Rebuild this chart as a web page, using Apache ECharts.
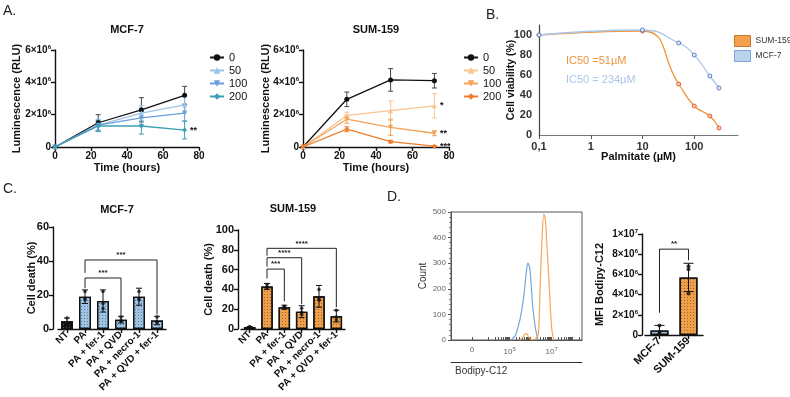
<!DOCTYPE html>
<html>
<head>
<meta charset="utf-8">
<script src="https://cdn.jsdelivr.net/npm/echarts@6/dist/echarts.min.js"></script>
<style>
html, body { margin: 0; padding: 0; background: #fff; }
#main { width: 790px; height: 397px; }
</style>
</head>
<body>
<div id="main"></div>
<script>
var FONT = 'Liberation Sans, Arial, sans-serif';

// A. luminescence (x10^6 RLU) vs time, per palmitate dose
var hours = [0, 24, 48, 72];
var doses = ['0', '50', '100', '200'];
var mcfLum0 = [0, 1.5, 2.3, 3.2],    mcfErr0 = [0, 0.5, 0.75, 0.55];
var mcfLum50 = [0, 1.35, 2.1, 2.6],  mcfErr50 = [0, 0.35, 0.45, 0.5];
var mcfLum100 = [0, 1.35, 1.8, 2.1], mcfErr100 = [0, 0.3, 0.4, 0.5];
var mcfLum200 = [0, 1.3, 1.3, 1.05], mcfErr200 = [0, 0.35, 0.5, 0.55];
var mcfLumSig = ['', '', '', '**'];
var sumLum0 = [0, 2.95, 4.15, 4.1],   sumErr0 = [0, 0.45, 0.7, 0.45];
var sumLum50 = [0, 1.95, 2.25, 2.55], sumErr50 = [0, 0.2, 0.6, 0.75];
var sumLum100 = [0, 1.72, 1.22, 0.85], sumErr100 = [0, 0.25, 0.5, 0.15];
var sumLum200 = [0, 1.1, 0.33, 0.05], sumErr200 = [0, 0.15, 0.08, 0.03];
var sumLumSig = ['', '*', '**', '***'];

// B. viability vs palmitate concentration
var palmitate = [0.1, 10, 50, 100, 200, 300];
var viabSum = [100, 104, 51, 29, 19, 7];
var viabMcf = [100, 105, 92, 80, 59, 47];

// C. cell death (%)
var treatments = ['NT', 'PA', 'PA + fer-1', 'PA + QVD', 'PA + necro-1', 'PA + QVD + fer-1'];
var mcfDeath = [4.5, 19, 16.5, 5.5, 19, 5];
var mcfDeathErr = [2, 4, 6.5, 2, 5, 2.5];
var mcfDeathReps = [[6.5, 4, 3], [22, 17, 18], [22, 12, 15], [7, 5, 4.5], [22, 17, 18], [7, 4, 4]];
var mcfBrackets = [[1, 3, 30, 24, 8], [1, 5, 40.6, 33, 8.5]];
var mcfBracketLabels = ['***', '***'];
var sumDeath = [2, 43, 22, 17.5, 33, 13];
var sumDeathErr = [0.5, 3, 2, 6, 11, 6];
var sumDeathReps = [[2, 2, 2], [45, 42, 42], [23, 22, 21], [21, 17, 15], [40, 30, 29], [19, 12, 9]];
var sumBrackets = [[1, 2, 60.5, 51, 28], [1, 3, 72, 63, 25], [1, 5, 81.5, 74, 22]];
var sumBracketLabels = ['***', '****', '****'];

// D. Bodipy-C12 histogram (log10 fluorescence, count) and MFI (x10^6)
var blueFluo = [5.05, 5.25, 5.4, 5.55, 5.7, 5.8, 5.87, 5.95, 6.02, 6.1, 6.22, 6.35];
var blueCount = [0, 15, 50, 105, 190, 270, 300, 285, 220, 130, 50, 0];
var orangeFluo = [5.48, 5.62, 5.72, 5.8, 5.9, 6.05, 6.25, 6.37, 6.44, 6.53, 6.63, 6.7, 6.77, 6.88, 7.0, 7.1];
var orangeCount = [0, 10, 22, 25, 12, 2, 5, 25, 180, 370, 492, 470, 380, 220, 50, 0];
var cells = ['MCF-7', 'SUM-159'];
var mfi = [0.45, 5.7];
var mfiErr = [0.5, 1.4];
var mfiReps = [[0.95, 0.3, 0.1], [6.8, 6.5, 4.1]];
var mfiBrackets = [[0, 1, 8.5, 2.2, 7.4]];
var mfiBracketLabels = ['**'];

var BLUE = ['#9cc3e6', '#6a9fde', '#3aa0b5'];
var ORANGE = ['#f9c48e', '#f4a25a', '#ef7d2e'];
var BAR_BLUE = '#9dc3e6';
var BAR_ORANGE = '#f0a04b';

function merge(a, b) {
  var out = {};
  for (var k in a) out[k] = a[k];
  for (var k2 in b) {
    if (out[k2] && typeof out[k2] === 'object' && !Array.isArray(out[k2]) && typeof b[k2] === 'object' && !Array.isArray(b[k2])) {
      out[k2] = merge(out[k2], b[k2]);
    } else {
      out[k2] = b[k2];
    }
  }
  return out;
}

var prismAxis = {
  axisLine: { show: true, onZero: false, lineStyle: { color: '#111', width: 1.4 } },
  axisTick: { show: true, length: 4, lineStyle: { color: '#111', width: 1.4 } },
  axisLabel: { color: '#111', fontFamily: FONT, fontWeight: 'bold', fontSize: 10, margin: 4 },
  splitLine: { show: false },
  nameLocation: 'middle',
  nameMoveOverlap: false,
  nameTextStyle: { color: '#111', fontFamily: FONT, fontWeight: 'bold', fontSize: 11 }
};

function sci(v) {
  if (v === 0) return '0';
  if (v >= 10) return '{b|' + (v / 10) + '×10}{s|7}';
  return '{b|' + v + '×10}{s|6}';
}
var sciRich = {
  b: { fontFamily: FONT, fontWeight: 'bold', fontSize: 10, color: '#111' },
  s: { fontFamily: FONT, fontWeight: 'bold', fontSize: 6, color: '#111', verticalAlign: 'top', padding: [0, 0, 5, 0] }
};

function errSeries(xi, data, color, cap) {
  return {
    type: 'custom', xAxisIndex: xi, yAxisIndex: xi, silent: true, z: 3,
    data: data,
    renderItem: function (params, api) {
      var x = api.value(0);
      var lo = api.coord([x, api.value(1)]);
      var hi = api.coord([x, api.value(2)]);
      var st = { stroke: color, lineWidth: 1 };
      return { type: 'group', children: [
        { type: 'line', shape: { x1: lo[0], y1: lo[1], x2: hi[0], y2: hi[1] }, style: st },
        { type: 'line', shape: { x1: hi[0] - cap, y1: hi[1], x2: hi[0] + cap, y2: hi[1] }, style: st },
        { type: 'line', shape: { x1: lo[0] - cap, y1: lo[1], x2: lo[0] + cap, y2: lo[1] }, style: st }
      ] };
    }
  };
}

function bracketSeries(xi, rows, labels) {
  return {
    type: 'custom', xAxisIndex: xi, yAxisIndex: xi, silent: true, z: 6,
    data: rows,
    renderItem: function (params, api) {
      var a = api.coord([api.value(0), api.value(3)]);
      var b = api.coord([api.value(0), api.value(2)]);
      var c = api.coord([api.value(1), api.value(2)]);
      var d = api.coord([api.value(1), api.value(4)]);
      return { type: 'group', children: [
        { type: 'polyline', shape: { points: [a, b, c, d] }, style: { stroke: '#222', lineWidth: 1, fill: null } },
        { type: 'text', x: (b[0] + c[0]) / 2, y: b[1] - 1,
          style: { text: labels[params.dataIndex], font: 'bold 8px ' + FONT, fill: '#222', align: 'center', verticalAlign: 'bottom' } }
      ] };
    }
  };
}

function lumSeries(xi, cell, dose, vals, errs, sig, color, symbol, rotate) {
  var out = [];
  out.push({
    type: 'line', name: cell + '|' + dose, xAxisIndex: xi, yAxisIndex: xi, z: 4,
    symbol: symbol, symbolSize: 5, symbolRotate: rotate,
    lineStyle: { color: color, width: 1.3 }, itemStyle: { color: color },
    data: hours.map(function (h, i) {
      var d = { value: [h, vals[i]] };
      if (i === hours.length - 1 && sig) {
        d.label = { show: true, formatter: sig, position: 'right', distance: 3,
          fontFamily: FONT, fontWeight: 'bold', fontSize: 9, color: '#111' };
      }
      return d;
    })
  });
  var eb = [];
  hours.forEach(function (h, i) { if (errs[i] > 0) eb.push([h, vals[i] - errs[i], vals[i] + errs[i]]); });
  out.push(errSeries(xi, eb, color === '#111' ? '#444' : color, 2.5));
  return out;
}

function barBlock(xi, vals, errs, reps, fill, first, width) {
  var dotDecal = { symbol: 'rect', symbolSize: 1, color: 'rgba(0,0,0,0.35)', dashArrayX: [1, 2], dashArrayY: [1, 2] };
  var out = [];
  out.push({
    type: 'bar', xAxisIndex: xi, yAxisIndex: xi, barWidth: width, z: 2,
    data: vals.map(function (v, i) {
      var c = (i === 0 && first) ? first : fill;
      return { value: v, itemStyle: { color: c, borderColor: '#111', borderWidth: 1.3,
        decal: (i === 0 && first) ? { symbol: 'rect', symbolSize: 1, color: 'rgba(255,255,255,0.35)', dashArrayX: [1, 2], dashArrayY: [1, 2] } : dotDecal } };
    })
  });
  out.push(errSeries(xi, vals.map(function (v, i) { return [i, Math.max(0, v - errs[i]), v + errs[i]]; }), '#111', 3));
  var pts = [];
  reps.forEach(function (r, i) { r.forEach(function (v) { pts.push([i, v]); }); });
  out.push({ type: 'scatter', xAxisIndex: xi, yAxisIndex: xi, symbolSize: 3.5, z: 5,
    itemStyle: { color: '#111' }, data: pts });
  return out;
}

var series = [];
var shapes = [['circle', 0], ['triangle', 0], ['triangle', 180], ['diamond', 0]];
[mcfLum0, mcfLum50, mcfLum100, mcfLum200].forEach(function (v, k) {
  var errs = [mcfErr0, mcfErr50, mcfErr100, mcfErr200][k];
  var color = k === 0 ? '#111' : BLUE[k - 1];
  series = series.concat(lumSeries(0, 'MCF-7', doses[k], v, errs, mcfLumSig[k], color, shapes[k][0], shapes[k][1]));
});
[sumLum0, sumLum50, sumLum100, sumLum200].forEach(function (v, k) {
  var errs = [sumErr0, sumErr50, sumErr100, sumErr200][k];
  var color = k === 0 ? '#111' : ORANGE[k - 1];
  series = series.concat(lumSeries(1, 'SUM-159', doses[k], v, errs, sumLumSig[k], color, shapes[k][0], shapes[k][1]));
});

// B
series.push({
  type: 'line', name: 'SUM-159', xAxisIndex: 2, yAxisIndex: 2, smooth: 0.5, z: 3,
  symbol: 'circle', symbolSize: 4,
  lineStyle: { color: '#f0943a', width: 1.3 },
  itemStyle: { color: '#f7c9a8', borderColor: '#e0603a', borderWidth: 1 },
  data: palmitate.map(function (c, i) { return [c, viabSum[i]]; })
});
series.push({
  type: 'line', name: 'MCF-7', xAxisIndex: 2, yAxisIndex: 2, smooth: 0.5, z: 4,
  symbol: 'circle', symbolSize: 4,
  lineStyle: { color: '#aac8ec', width: 1.3 },
  itemStyle: { color: '#dfe9f7', borderColor: '#5f7fc7', borderWidth: 1 },
  data: palmitate.map(function (c, i) { return [c, viabMcf[i]]; })
});

// C
series = series.concat(barBlock(3, mcfDeath, mcfDeathErr, mcfDeathReps, BAR_BLUE, '#111', 12));
series.push(bracketSeries(3, mcfBrackets, mcfBracketLabels));
series = series.concat(barBlock(4, sumDeath, sumDeathErr, sumDeathReps, BAR_ORANGE, '#111', 11.5));
series.push(bracketSeries(4, sumBrackets, sumBracketLabels));

// D histogram
series.push({
  type: 'line', xAxisIndex: 5, yAxisIndex: 5, smooth: 0.3, showSymbol: false, z: 3,
  lineStyle: { color: '#6fa8dc', width: 1.2 },
  data: blueFluo.map(function (x, i) { return [x, blueCount[i]]; })
});
series.push({
  type: 'line', xAxisIndex: 5, yAxisIndex: 5, smooth: 0.3, showSymbol: false, z: 3,
  lineStyle: { color: '#f5a55a', width: 1.2 },
  data: orangeFluo.map(function (x, i) { return [x, orangeCount[i]]; })
});

// D MFI bars
var dDecal = { symbol: 'rect', symbolSize: 1, color: 'rgba(0,0,0,0.35)', dashArrayX: [1, 2], dashArrayY: [1, 2] };
series.push({
  type: 'bar', xAxisIndex: 6, yAxisIndex: 6, barWidth: 18, z: 2,
  data: mfi.map(function (v, i) {
    return { value: v, itemStyle: { color: i === 0 ? BAR_BLUE : BAR_ORANGE, borderColor: '#111', borderWidth: 1.3, decal: dDecal } };
  })
});
series.push(errSeries(6, mfi.map(function (v, i) { return [i, Math.max(0, v - mfiErr[i]), v + mfiErr[i]]; }), '#111', 5));
var mfiPts = [];
mfiReps.forEach(function (r, i) { r.forEach(function (v) { mfiPts.push([i, v]); }); });
series.push({ type: 'scatter', xAxisIndex: 6, yAxisIndex: 6, symbolSize: 4, z: 5, itemStyle: { color: '#111' }, data: mfiPts });
series.push(bracketSeries(6, mfiBrackets, mfiBracketLabels));

// minor ticks of the cytometry axis
var histTicks = [3.2];
for (var n = 4; n <= 8; n++) {
  for (var k = 1; k <= 9; k++) {
    var t = n + Math.log10(k);
    if (t <= 8.45) histTicks.push(t);
  }
}

var option = {
  animation: false,
  backgroundColor: '#fff',
  grid: [
    { left: 55, top: 50, width: 144, height: 97, outerBoundsMode: 'none' },
    { left: 303, top: 50, width: 146, height: 97, outerBoundsMode: 'none' },
    { left: 539, top: 25, width: 199, height: 110, outerBoundsMode: 'none' },
    { left: 58, top: 227, width: 108, height: 102, outerBoundsMode: 'none' },
    { left: 241, top: 230, width: 104, height: 99, outerBoundsMode: 'none' },
    { left: 451, top: 212, width: 131, height: 128, outerBoundsMode: 'none', show: true, borderColor: '#555', borderWidth: 1 },
    { left: 645, top: 234, width: 58, height: 101, outerBoundsMode: 'none' }
  ],
  xAxis: [
    merge(prismAxis, { gridIndex: 0, type: 'value', min: 0, max: 80, interval: 20, name: 'Time (hours)', nameGap: 15 }),
    merge(prismAxis, { gridIndex: 1, type: 'value', min: 0, max: 80, interval: 20, name: 'Time (hours)', nameGap: 15 }),
    merge(prismAxis, { gridIndex: 2, type: 'log', logBase: 10, min: 0.1, max: 700, name: 'Palmitate (µM)', nameGap: 16,
      axisLine: { lineStyle: { color: '#777', width: 1 } },
      axisTick: { length: 4, lineStyle: { color: '#555', width: 1 } },
      axisLabel: { fontSize: 11, color: '#333', margin: 6, showMaxLabel: false,
        formatter: function (v) { return Math.abs(v - 0.1) < 1e-9 ? '0,1' : String(Math.round(v)); } } }),
    merge(prismAxis, { gridIndex: 3, type: 'category', data: treatments,
      axisTick: { alignWithLabel: true }, axisLabel: { rotate: 45, fontSize: 10, margin: 4, interval: 0 } }),
    merge(prismAxis, { gridIndex: 4, type: 'category', data: treatments,
      axisTick: { alignWithLabel: true }, axisLabel: { rotate: 45, fontSize: 10, margin: 4, interval: 0 } }),
    merge(prismAxis, { gridIndex: 5, type: 'value', min: 2.2, max: 8.45,
      axisLine: { lineStyle: { color: '#555', width: 1 } },
      axisTick: { inside: true, length: 3, customValues: histTicks, lineStyle: { color: '#555', width: 1 } },
      axisLabel: { customValues: [3.2, 5, 7], color: '#666', fontWeight: 'normal', fontSize: 8, margin: 6,
        formatter: function (v) { return v < 4 ? '0' : '{a|10}{s|' + Math.round(v) + '}'; },
        rich: { a: { fontSize: 8, color: '#666', fontFamily: FONT }, s: { fontSize: 6, color: '#666', fontFamily: FONT, verticalAlign: 'top', padding: [0, 0, 5, 0] } } } }),
    merge(prismAxis, { gridIndex: 6, type: 'category', data: cells,
      axisTick: { alignWithLabel: true }, axisLabel: { rotate: 45, fontSize: 11, margin: 4, interval: 0 } }),
    { gridIndex: 5, type: 'value', min: 0, max: 1, position: 'bottom', offset: 22,
      axisLine: { show: true, onZero: false, lineStyle: { color: '#333', width: 1 } },
      axisTick: { show: false }, axisLabel: { show: false }, splitLine: { show: false },
      name: 'Bodipy-C12', nameLocation: 'start', nameGap: -4, nameMoveOverlap: false,
      nameTextStyle: { color: '#333', fontFamily: FONT, fontSize: 10, align: 'left', verticalAlign: 'top', padding: [4, 0, 0, 0] } }
  ],
  yAxis: [
    merge(prismAxis, { gridIndex: 0, type: 'value', min: 0, max: 6, interval: 2, name: 'Luminescence (RLU)', nameGap: 33,
      axisLabel: { formatter: sci, rich: sciRich } }),
    merge(prismAxis, { gridIndex: 1, type: 'value', min: 0, max: 6, interval: 2, name: 'Luminescence (RLU)', nameGap: 32,
      axisLabel: { formatter: sci, rich: sciRich } }),
    merge(prismAxis, { gridIndex: 2, type: 'value', min: 0, max: 110, interval: 20, name: 'Cell viability (%)', nameGap: 22,
      nameTextStyle: { fontSize: 10.5 },
      axisLine: { lineStyle: { color: '#444', width: 1.2 } }, axisTick: { show: false },
      axisLabel: { fontSize: 11, color: '#333', margin: 7, showMaxLabel: false } }),
    merge(prismAxis, { gridIndex: 3, type: 'value', min: 0, max: 60, interval: 20, offset: 5, name: 'Cell death (%)', nameGap: 16,
      axisLabel: { fontSize: 11 } }),
    merge(prismAxis, { gridIndex: 4, type: 'value', min: 0, max: 100, interval: 20, offset: 3, name: 'Cell death (%)', nameGap: 24,
      axisLabel: { fontSize: 11 } }),
    merge(prismAxis, { gridIndex: 5, type: 'value', min: 0, max: 500, interval: 100, name: 'Count', nameGap: 23,
      nameTextStyle: { fontWeight: 'normal', fontSize: 10, color: '#333' },
      axisLine: { lineStyle: { color: '#555', width: 1 } },
      axisTick: { length: 3, lineStyle: { color: '#555', width: 1 } },
      minorTick: { show: true, splitNumber: 5, length: 2, lineStyle: { color: '#777' } },
      axisLabel: { color: '#666', fontWeight: 'normal', fontSize: 8, margin: 5 } }),
    merge(prismAxis, { gridIndex: 6, type: 'value', min: 0, max: 10, interval: 2, offset: 3, name: 'MFI Bodipy-C12', nameGap: 37,
      axisLabel: { formatter: sci, rich: sciRich } })
  ],
  legend: [
    { orient: 'vertical', left: 204, top: 47, itemWidth: 14, itemHeight: 8, itemGap: 2,
      data: doses.map(function (d) { return 'MCF-7|' + d; }),
      formatter: function (n) { return n.split('|')[1]; },
      textStyle: { fontFamily: FONT, fontSize: 11, color: '#111' } },
    { orient: 'vertical', left: 458, top: 47, itemWidth: 14, itemHeight: 8, itemGap: 2,
      data: doses.map(function (d) { return 'SUM-159|' + d; }),
      formatter: function (n) { return n.split('|')[1]; },
      textStyle: { fontFamily: FONT, fontSize: 11, color: '#111' } },
    { orient: 'vertical', left: 729, top: 30, itemWidth: 16, itemHeight: 11, itemGap: 3,
      data: [
        { name: 'SUM-159', icon: 'rect', itemStyle: { color: '#f5a04d', borderColor: '#c9772f', borderWidth: 1 } },
        { name: 'MCF-7', icon: 'rect', itemStyle: { color: '#b9d3ef', borderColor: '#7fa6d6', borderWidth: 1 } }
      ],
      textStyle: { fontFamily: FONT, fontSize: 8.5, color: '#333' } }
  ],
  graphic: [
    { type: 'text', x: 3, y: 11, style: { text: 'A.', font: '14px ' + FONT, fill: '#222', verticalAlign: 'middle' } },
    { type: 'text', x: 486, y: 15, style: { text: 'B.', font: '14px ' + FONT, fill: '#222', verticalAlign: 'middle' } },
    { type: 'text', x: 3, y: 189, style: { text: 'C.', font: '14px ' + FONT, fill: '#222', verticalAlign: 'middle' } },
    { type: 'text', x: 387, y: 197, style: { text: 'D.', font: '14px ' + FONT, fill: '#222', verticalAlign: 'middle' } },
    { type: 'text', x: 127, y: 30, style: { text: 'MCF-7', font: 'bold 11px ' + FONT, fill: '#111', align: 'center', verticalAlign: 'middle' } },
    { type: 'text', x: 376, y: 30, style: { text: 'SUM-159', font: 'bold 11px ' + FONT, fill: '#111', align: 'center', verticalAlign: 'middle' } },
    { type: 'text', x: 117, y: 210, style: { text: 'MCF-7', font: 'bold 11px ' + FONT, fill: '#111', align: 'center', verticalAlign: 'middle' } },
    { type: 'text', x: 293, y: 209, style: { text: 'SUM-159', font: 'bold 11px ' + FONT, fill: '#111', align: 'center', verticalAlign: 'middle' } },
    { type: 'text', x: 566, y: 61, style: { text: 'IC50 =51µM', font: '11px ' + FONT, fill: '#f0943a', verticalAlign: 'middle' } },
    { type: 'text', x: 566, y: 80, style: { text: 'IC50 = 234µM', font: '11px ' + FONT, fill: '#a9c6ec', verticalAlign: 'middle' } }
  ],
  series: series
};

var chart = echarts.init(document.getElementById('main'));
chart.setOption(option);
</script>
</body>
</html>
